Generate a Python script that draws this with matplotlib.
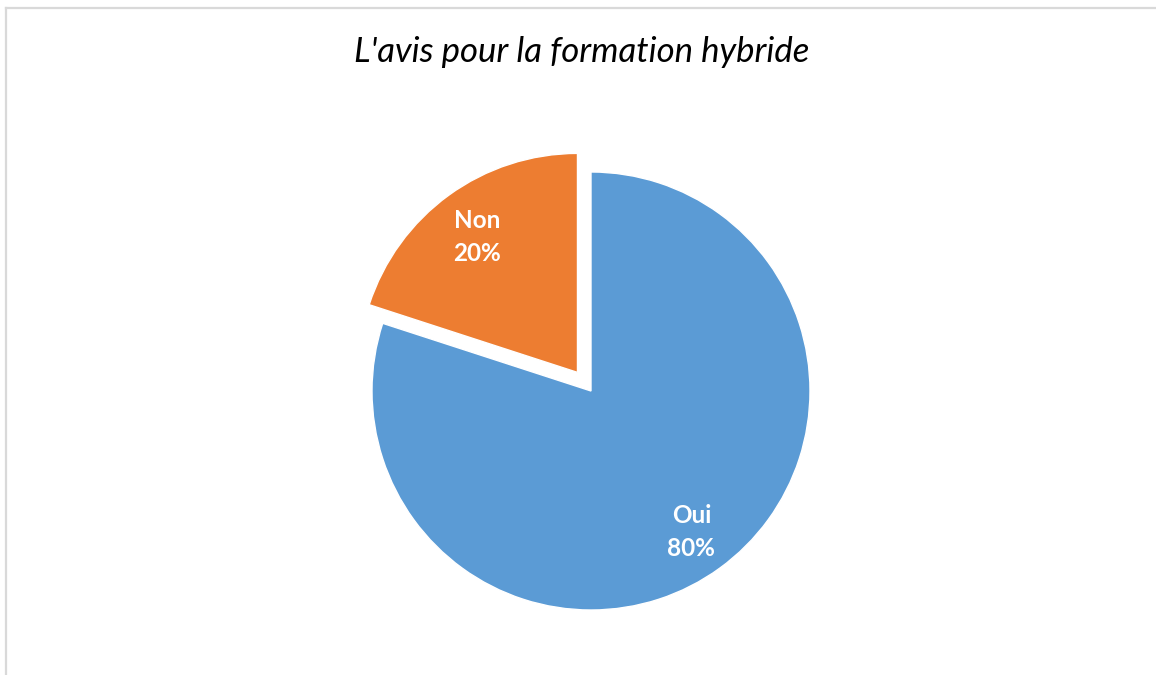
import matplotlib
matplotlib.use("Agg")
import matplotlib.pyplot as plt
from matplotlib.lines import Line2D
import numpy as np

title = "L'avis pour la formation hybride"
categories = ["Oui", "Non"]
values = [80, 20]
colors = ["#5B9BD5", "#ED7D31"]
explode = [0, 0.105]

W, H = 1156, 675
fig = plt.figure(figsize=(W / 100, H / 100), dpi=100)
ax = fig.add_axes([0, 0, 1, 1])

cx, cy, R = 591, H - 391, 219
wedges, _ = ax.pie(values, colors=colors, startangle=90, counterclock=False,
                   explode=[e * R for e in explode], radius=R, center=(cx, cy),
                   wedgeprops=dict(edgecolor="white", linewidth=1.0))
ax.set_xlim(0, W)
ax.set_ylim(0, H)
ax.set_aspect("auto")
ax.axis("off")

total = sum(values)
for w, cat, v in zip(wedges, categories, values):
    mid = np.deg2rad((w.theta1 + w.theta2) / 2)
    x0, y0 = w.center
    r = w.r * 0.78
    ax.text(x0 + r * np.cos(mid), y0 + r * np.sin(mid) - 3,
            f"{cat}\n{v / total * 100:.0f}%", ha="center", va="center",
            color="white", fontsize=17.5, fontweight="bold", family="Lato",
            linespacing=1.5)

fig.text(582 / W, 1 - 52 / H, title, ha="center", va="center",
         fontsize=25, style="italic", family="Lato", color="#000000")

fig.add_artist(Line2D([6 / W, 1], [1 - 8 / H, 1 - 8 / H], color="#D9D9D9",
                      lw=1.6, transform=fig.transFigure))
fig.add_artist(Line2D([6 / W, 6 / W], [0, 1 - 8 / H], color="#D9D9D9",
                      lw=1.6, transform=fig.transFigure))

fig.savefig("out.png", dpi=100, facecolor="white")
